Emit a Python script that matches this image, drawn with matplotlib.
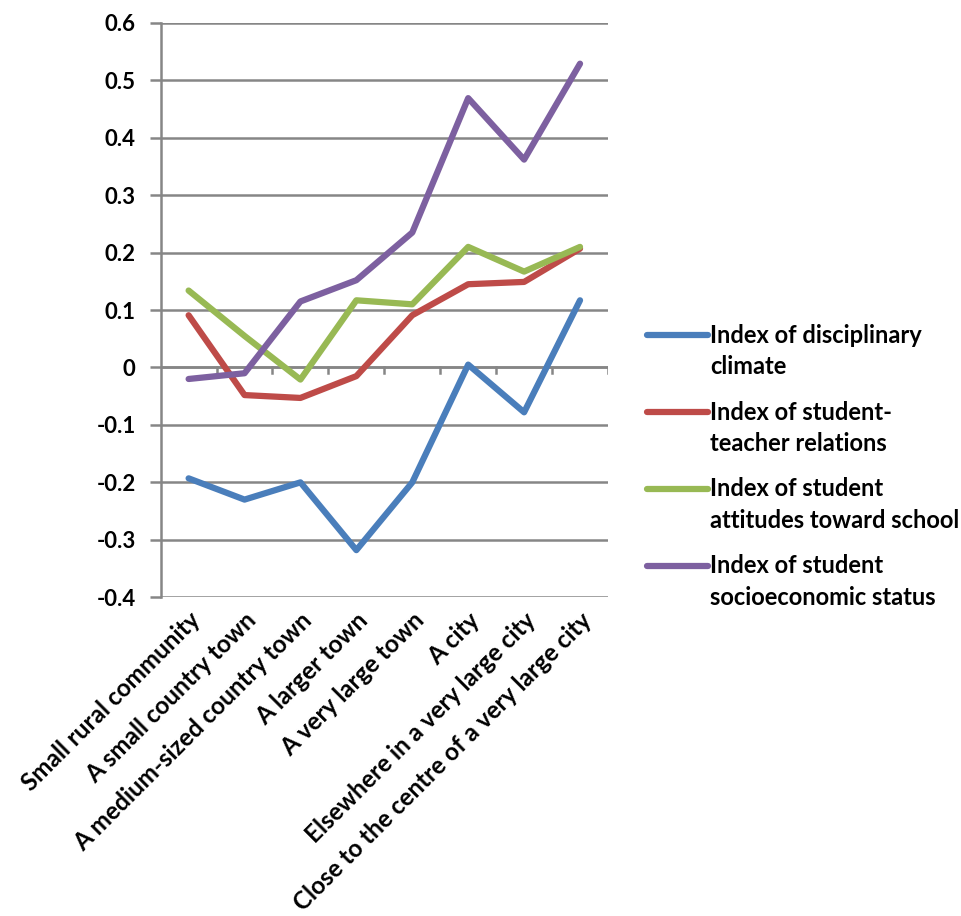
import matplotlib.pyplot as plt
from matplotlib.legend_handler import HandlerLine2D

categories = [
    "Small rural community",
    "A small country town",
    "A medium-sized country town",
    "A larger town",
    "A very large town",
    "A city",
    "Elsewhere in a very large city",
    "Close to the centre of a very large city",
]

disciplinary = [-0.193, -0.230, -0.200, -0.318, -0.200, 0.005, -0.078, 0.117]
teacher_rel = [0.091, -0.048, -0.053, -0.015, 0.091, 0.145, 0.149, 0.207]
attitudes = [0.134, 0.055, -0.021, 0.117, 0.110, 0.210, 0.167, 0.210]
ses = [-0.020, -0.010, 0.115, 0.152, 0.235, 0.469, 0.362, 0.529]

series_names = [
    "Index of disciplinary\nclimate",
    "Index of student-\nteacher relations",
    "Index of student\nattitudes toward school",
    "Index of student\nsocioeconomic status",
]
colors = ["#4A7EBB", "#BE4B48", "#98B954", "#7D60A0"]

yticks = [-0.4, -0.3, -0.2, -0.1, 0, 0.1, 0.2, 0.3, 0.4, 0.5, 0.6]


class TopLineHandler(HandlerLine2D):
    # put the legend line next to the first text line, like Excel does
    def create_artists(self, legend, orig_handle, xdescent, ydescent,
                       width, height, fontsize, trans):
        arts = super().create_artists(legend, orig_handle, xdescent, ydescent,
                                      width, height, fontsize, trans)
        for a in arts:
            a.set_ydata([y + 0.73 * fontsize for y in a.get_ydata()])
        return arts


plt.rcParams['font.family'] = ['Lato', 'DejaVu Sans']
plt.rcParams['font.weight'] = 'bold'

fig = plt.figure(figsize=(9.62, 9.16), dpi=100)
ax = fig.add_axes([0.167, 0.348, 0.465, 0.627])

grid_c = "#868686"
x = list(range(len(categories)))
for vals, name, c in zip([disciplinary, teacher_rel, attitudes, ses], series_names, colors):
    ax.plot(x, vals, color=c, lw=4.5, label=name, solid_capstyle='round',
            solid_joinstyle='round', zorder=3)

ax.set_xlim(-0.5, len(categories) - 0.5)
ax.set_ylim(-0.4, 0.6)
ax.set_yticks(yticks)
ax.set_yticklabels(["-0.4", "-0.3", "-0.2", "-0.1", "0", "0.1", "0.2", "0.3", "0.4", "0.5", "0.6"])
ax.yaxis.grid(True, color=grid_c, lw=1.8)
ax.set_axisbelow(True)

for s in ["top", "right", "bottom"]:
    ax.spines[s].set_visible(False)
ax.spines["left"].set_color(grid_c)
ax.spines["left"].set_linewidth(1.8)
ax.tick_params(axis="y", length=8, width=1.8, color=grid_c, labelsize=16, pad=10)

# category axis drawn at zero with crossing ticks between categories
ax.axhline(0, color=grid_c, lw=1.8, zorder=1)
for b in range(1, len(categories) + 1):
    ax.plot([b - 0.5, b - 0.5], [0, -0.01], color=grid_c, lw=1.8, zorder=1)

ax.set_xticks(x)
ax.set_xticklabels(categories, rotation=45, ha="right", va="top",
                   rotation_mode="anchor", fontsize=17.5)
ax.tick_params(axis="x", length=0, pad=8)

handler = {h: TopLineHandler() for h in ax.get_lines()[:4]}
leg = fig.legend(handles=ax.get_lines()[:4], loc="upper left",
                 bbox_to_anchor=(0.650, 0.670), frameon=False, fontsize=17,
                 handlelength=2.6, handletextpad=0.08, labelspacing=0.95,
                 handler_map=handler)
for t in leg.get_texts():
    t.set_linespacing(1.45)

fig.savefig("out.png", dpi=100)
